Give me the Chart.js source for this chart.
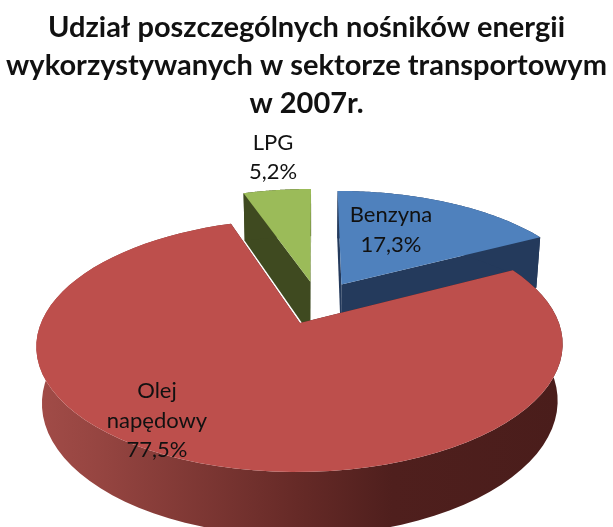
<!DOCTYPE html>
<html lang="pl">
<head>
  <meta charset="UTF-8"/>
  <title>Udział nośników energii</title>
  <script src="https://cdn.jsdelivr.net/npm/chart.js"></script>
  <style>
    body { margin: 0; background: white; }
    canvas { display: block; }
  </style>
</head>
<body>
<canvas id="pie3d" width="613" height="527"></canvas>
<script>
  const categories = ['Benzyna', 'Olej napędowy', 'LPG'];
  const shares = [17.3, 77.5, 5.2];
  const titleLines = [
    'Udział poszczególnych nośników energii',
    'wykorzystywanych w sektorze transportowym',
    'w 2007r.'
  ];

  const topColors = ['#4f81bd', '#bd4f4c', '#9bbb59'];
  const wallColors = ['#243a5c', '#4f1f1d', '#3f4a20'];

  // perspective of the tilted disc, fitted to the picture
  const view = { x0: 315, y0: 323, w: 259, h: 122.5, p: 0.178, q: 0.02, depth: 57, shiftU: 0.0113, shiftV: -0.174 };
  const explode = 0.187;
  // label centres: x, then y of the first line
  const labelSpots = [[391, 215], [157, 391], [273, 143]];
  const labelLineGap = [30, 29.5, 29];

  function project(u, v, lower) {
    const U = u + view.shiftU, V = v + view.shiftV;
    const k = 1 / (1 - view.p * V + (lower ? view.q : 0));
    return [view.x0 + view.w * U * k, view.y0 + (view.h * V + (lower ? view.depth : 0)) * k];
  }

  function fillPath(ctx, points, fill) {
    ctx.beginPath();
    points.forEach((p, i) => i ? ctx.lineTo(p[0], p[1]) : ctx.moveTo(p[0], p[1]));
    ctx.closePath();
    ctx.fillStyle = fill;
    ctx.fill();
  }

  function drawSlice(ctx, arc, index) {
    const mid = (arc.startAngle + arc.endAngle) / 2;
    const ou = explode * Math.cos(mid), ov = explode * Math.sin(mid);
    const rim = (lower) => {
      const pts = [];
      for (let i = 0; i <= 80; i++) {
        const a = arc.startAngle + (arc.endAngle - arc.startAngle) * i / 80;
        pts.push(project(ou + Math.cos(a), ov + Math.sin(a), lower));
      }
      return pts;
    };
    const topRim = rim(false), lowRim = rim(true);
    const apex = project(ou, ov, false), lowApex = project(ou, ov, true);

    let wall = wallColors[index];
    // the big slice gets the light running along its front wall
    if (index === 1) {
      wall = ctx.createLinearGradient(35, 0, 560, 0);
      wall.addColorStop(0, '#a24c48');
      wall.addColorStop(0.12, '#964541');
      wall.addColorStop(0.5, '#662a27');
      wall.addColorStop(0.68, '#4f1f1d');
      wall.addColorStop(1, '#4a1d1b');
    }

    // cut faces, outer wall, then the top
    fillPath(ctx, [apex, topRim[0], lowRim[0], lowApex], wallColors[index]);
    fillPath(ctx, [apex, topRim[80], lowRim[80], lowApex], wallColors[index]);
    fillPath(ctx, topRim.concat(lowRim.slice().reverse()), wall);
    fillPath(ctx, [apex].concat(topRim), arc.options.backgroundColor);
  }

  const pie3d = {
    id: 'pie3d',
    beforeDatasetsDraw(chart) {
      const ctx = chart.ctx;
      const arcs = chart.getDatasetMeta(0).data;
      ctx.save();
      // back slices first, the big one covers their walls
      [2, 0, 1].forEach(i => drawSlice(ctx, arcs[i], i));

      ctx.fillStyle = '#111';
      ctx.font = '22px Lato';
      ctx.textAlign = 'center';
      ctx.textBaseline = 'middle';
      categories.forEach((name, i) => {
        const lines = name.split(' ').concat(shares[i].toFixed(1).replace('.', ',') + '%');
        lines.forEach((line, n) => {
          ctx.fillText(line, labelSpots[i][0], labelSpots[i][1] + n * labelLineGap[i]);
        });
      });
      ctx.restore();
      return false;
    }
  };

  new Chart(document.getElementById('pie3d'), {
    type: 'pie',
    data: {
      labels: categories,
      datasets: [{ data: shares, backgroundColor: topColors, borderWidth: 0 }]
    },
    options: {
      responsive: false,
      animation: false,
      plugins: {
        legend: { display: false },
        tooltip: { enabled: false },
        title: {
          display: true,
          text: titleLines,
          color: '#111',
          font: { family: 'Lato', size: 29, weight: 'bold', lineHeight: 1.3 },
          padding: { top: 9, bottom: 4 }
        }
      }
    },
    plugins: [pie3d]
  });
</script>
</body>
</html>
